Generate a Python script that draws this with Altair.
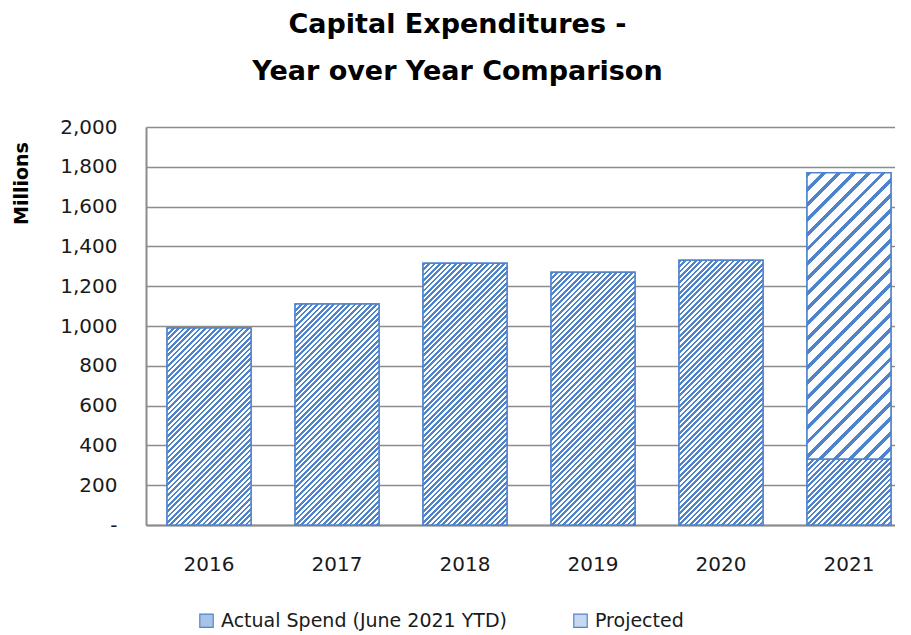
import math
import altair as alt
import pandas as pd

# ---- data ----
years = ["2016", "2017", "2018", "2019", "2020", "2021"]
actual = [990, 1110, 1315, 1270, 1330, 332]
projected = [0, 0, 0, 0, 0, 1438]
series_names = ["Actual Spend (June 2021 YTD)", "Projected"]
y_ticks = [0, 200, 400, 600, 800, 1000, 1200, 1400, 1600, 1800, 2000]
title_lines = ["Capital Expenditures -", "Year over Year Comparison"]

rows = []
for yr, a, p in zip(years, actual, projected):
    rows.append({"year": yr, "series": series_names[0], "start": 0, "end": a, "key": yr + "A"})
    if p > 0:
        rows.append({"year": yr, "series": series_names[1], "start": a, "end": a + p, "key": yr + "P"})
df = pd.DataFrame(rows)

# ---- layout / style ----
PLOT_W, PLOT_H, Y_MAX = 749, 398, 2000
P_IN, P_OUT, ALIGN = 0.344, 0.098, 0.84
STEP = PLOT_W / (len(years) - P_IN + 2 * P_OUT)
BAR_W = STEP * (1 - P_IN)
PPU = PLOT_H / Y_MAX
BLUE = "#4f84cc"
FONT = "DejaVu Sans"


def hatch(w, h, period, frac, color):
    """45-degree '/' stripes as a sharp-stop linear gradient in bbox units."""
    s = (1 / h + 1 / w) / (1 / h ** 2 + 1 / w ** 2)
    x2, y2 = s / h, s / w
    n = (w + h) / (math.sqrt(2) * period)
    stops = []
    k = 0
    while k < n:
        a = round(k / n, 5)
        b = round(min((k + frac) / n, 1), 5)
        c = round(min((k + 1) / n, 1), 5)
        stops += [alt.GradientStop(offset=a, color=color),
                  alt.GradientStop(offset=b, color=color),
                  alt.GradientStop(offset=b, color="#ffffff"),
                  alt.GradientStop(offset=c, color="#ffffff")]
        k += 1
    return alt.LinearGradient(gradient="linear", stops=stops, x1=0, y1=0, x2=x2, y2=y2)


x_enc = alt.X("year:N", sort=years, title=None,
              scale=alt.Scale(paddingInner=P_IN, paddingOuter=P_OUT, align=ALIGN),
              axis=alt.Axis(labelAngle=0, ticks=False, labelPadding=29, labelFont=FONT,
                            labelFontSize=20, labelColor="#1a1a1a", domainColor="#8c8c8c",
                            domainWidth=2, grid=False))
y_enc = alt.Y("start:Q", scale=alt.Scale(domain=[0, Y_MAX], nice=False),
              title="Millions",
              axis=alt.Axis(values=y_ticks, ticks=False, labelPadding=29, labelFont=FONT,
                            labelFontSize=20, labelColor="#1a1a1a",
                            labelExpr="datum.value == 0 ? '-\u00a0\u00a0\u00a0' : format(datum.value, ',')",
                            grid=True, gridColor="#8c8c8c", gridWidth=1.5,
                            domainColor="#8c8c8c", domainWidth=2,
                            titleFont=FONT, titleFontSize=19, titleFontWeight="bold",
                            titleColor="#000000", titleAngle=270, titleX=-125, titleY=56,
                            titleAlign="center", titleBaseline="middle"))
y2_enc = alt.Y2("end:Q")

base = alt.Chart(df).mark_bar(stroke=BLUE, strokeWidth=1.5).encode(
    x=x_enc, y=y_enc, y2=y2_enc,
    color=alt.Color("series:N", sort=series_names, title=None,
                    scale=alt.Scale(domain=series_names, range=["#a9c3e8", "#c7d8ef"]),
                    legend=alt.Legend(orient="none", legendX=51, legendY=484, direction="horizontal",
                                      symbolType="square", symbolSize=180, symbolStrokeColor=BLUE,
                                      symbolStrokeWidth=1.2, labelFont=FONT, labelFontSize=19,
                                      labelColor="#1a1a1a", columnPadding=64, labelLimit=400,
                                      labelOffset=5, padding=0))
)

layers = [base]
for r in rows:
    w = BAR_W
    h = max((r["end"] - r["start"]) * PPU, 1)
    if r["series"] == series_names[0]:
        grad = hatch(w, h, 3.8, 0.5, BLUE)
    else:
        grad = hatch(w, h, 10.5, 0.33, BLUE)
    layers.append(
        alt.Chart(df).transform_filter(alt.datum.key == r["key"])
        .mark_bar(fill=grad, stroke=BLUE, strokeWidth=1.5)
        .encode(x=x_enc, y=y_enc, y2=y2_enc)
    )

chart = alt.layer(*layers).properties(
    width=PLOT_W, height=PLOT_H,
    title=alt.TitleParams(text=title_lines, font=FONT, fontSize=27, fontWeight="bold",
                          color="#000000", anchor="middle", dx=-63, lineHeight=47, offset=31),
    autosize=alt.AutoSizeParams(type="none"),
    padding={"left": 138, "top": 119, "right": 0, "bottom": 110},
).configure_view(stroke=None)

chart.save("out.html", embed_options={"renderer": "svg", "actions": False})
